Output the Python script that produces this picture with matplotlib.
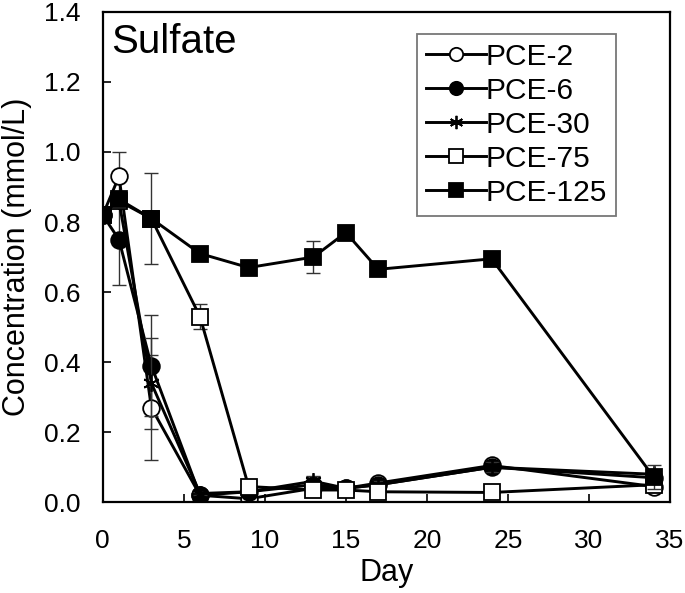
""" Sulfate concentration over time for the PCE series """

import matplotlib.pyplot as plt

plt.rcParams['font.family'] = ['Liberation Sans', 'DejaVu Sans']

days = [0, 1, 3, 6, 9, 13, 15, 17, 24, 34]

# mean concentrations (mmol/L)
pce2 = [0.82, 0.93, 0.27, 0.02, 0.01, 0.04, 0.04, 0.055, 0.105, 0.045]
pce6 = [0.82, 0.75, 0.39, 0.02, 0.03, 0.05, 0.04, 0.05, 0.10, 0.07]
pce30 = [0.82, 0.86, 0.34, 0.025, 0.03, 0.06, 0.04, 0.05, 0.10, 0.08]
pce75 = [0.82, 0.86, 0.81, 0.53, 0.045, 0.035, 0.035, 0.03, 0.028, 0.05]
pce125 = [0.82, 0.865, 0.81, 0.71, 0.67, 0.70, 0.77, 0.665, 0.695, 0.072]

# standard deviations
err2 = [0.0, 0.07, 0.15, 0.005, 0.005, 0.01, 0.01, 0.01, 0.01, 0.01]
err6 = [0.0, 0.13, 0.145, 0.005, 0.005, 0.01, 0.01, 0.01, 0.01, 0.01]
err30 = [0.0, 0.02, 0.13, 0.005, 0.005, 0.015, 0.01, 0.01, 0.015, 0.01]
err75 = [0.0, 0.02, 0.13, 0.035, 0.005, 0.005, 0.01, 0.005, 0.005, 0.01]
err125 = [0.0, 0.01, 0.01, 0.005, 0.005, 0.045, 0.005, 0.005, 0.005, 0.035]

labels = ["PCE-2", "PCE-6", "PCE-30", "PCE-75", "PCE-125"]
series = [pce2, pce6, pce30, pce75, pce125]
errors = [err2, err6, err30, err75, err125]
markers = ["o", "o", (6, 2, 0), "s", "s"]
faces = ["white", "black", "black", "white", "black"]

fig = plt.figure(figsize=(6.85, 5.93), dpi=100)
ax = fig.add_axes([0.150, 0.153, 0.828, 0.827])

handles = []
for vals, err, lab, m, fc in zip(series, errors, labels, markers, faces):
    # error bars drawn separately so the legend only shows line + marker
    ax.errorbar(days, vals, yerr=err, fmt='none', ecolor='#333333',
                elinewidth=1, capsize=5, capthick=1)
    ln, = ax.plot(days, vals, color='black', lw=2.1, marker=m, ms=12,
                  mfc=fc, mec='black', mew=1.3, label=lab)
    handles.append(ln)

ax.set_xlim(0, 35)
ax.set_ylim(0, 1.4)
ax.set_xticks(range(0, 36, 5))
ax.set_yticks([0.0, 0.2, 0.4, 0.6, 0.8, 1.0, 1.2, 1.4])
ax.set_yticklabels(["0.0", "0.2", "0.4", "0.6", "0.8", "1.0", "1.2", "1.4"])
ax.tick_params(direction='in', length=6, width=1.2, labelsize=19)
ax.tick_params(axis='x', pad=19.5)
ax.tick_params(axis='y', pad=16)
for s in ax.spines.values():
    s.set_linewidth(1.6)

ax.set_xlabel("Day", fontsize=22, labelpad=3)
ax.set_ylabel("Concentration (mmol/L)", fontsize=22, labelpad=8.5)

ax.text(0.015, 0.916, "Sulfate", transform=ax.transAxes, fontsize=29,
        ha='left', va='baseline')

leg = ax.legend(handles=handles, loc='upper right', bbox_to_anchor=(0.905, 0.955),
                borderaxespad=0, fontsize=21.5, frameon=True, fancybox=False,
                edgecolor='#555555', handlelength=2.0, handletextpad=0.0,
                labelspacing=0.2, borderpad=0.3, markerscale=0.8)
leg.get_frame().set_linewidth(1.3)

plt.savefig("out.png", dpi=100)
